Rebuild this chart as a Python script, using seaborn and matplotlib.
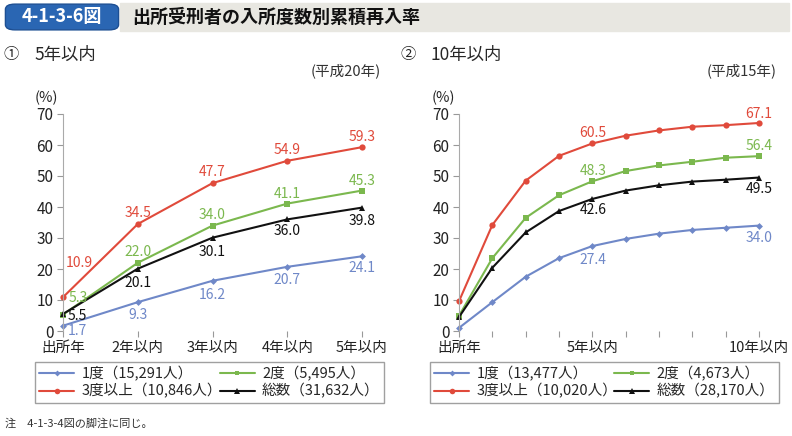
import numpy as np
import pandas as pd
import matplotlib.pyplot as plt
import seaborn as sns
from matplotlib.lines import Line2D
from matplotlib.patches import FancyBboxPatch, Rectangle

sns.set_style("white")
plt.rcParams['font.family'] = ['Noto Sans CJK JP', 'DejaVu Sans']

# data
series = ["1度", "2度", "3度以上", "総数"]
left_ticks = ["出所年", "2年以内", "3年以内", "4年以内", "5年以内"]
left_one = [1.7, 9.3, 16.2, 20.7, 24.1]
left_two = [5.3, 22.0, 34.0, 41.1, 45.3]
left_three = [10.9, 34.5, 47.7, 54.9, 59.3]
left_total = [5.5, 20.1, 30.1, 36.0, 39.8]
left_counts = ["15,291", "5,495", "10,846", "31,632"]

right_ticks = ["出所年", "", "", "", "5年以内", "", "", "", "", "10年以内"]
right_one = [1.0, 9.3, 17.5, 23.5, 27.4, 29.7, 31.4, 32.6, 33.3, 34.0]
right_two = [4.9, 23.5, 36.5, 43.8, 48.3, 51.6, 53.4, 54.6, 55.9, 56.4]
right_three = [9.6, 34.2, 48.5, 56.5, 60.5, 63.0, 64.7, 65.9, 66.4, 67.1]
right_total = [4.5, 20.4, 31.8, 38.7, 42.6, 45.3, 47.0, 48.2, 48.8, 49.5]
right_counts = ["13,477", "4,673", "10,020", "28,170"]

colors = {"1度": "#6f88c8", "2度": "#7bb84e", "3度以上": "#e04a3b", "総数": "#111111"}
markers = {"1度": "D", "2度": "s", "3度以上": "o", "総数": "^"}
msize = {"1度": 3.5, "2度": 4, "3度以上": 4.5, "総数": 4.5}

# which points get a value label and where (offset in pixels)
left_labels = {
    "1度": [(0, 14, -5), (1, 0, -13), (2, 0, -14), (3, 0, -13), (4, 0, -12)],
    "2度": [(0, 15, 17), (1, 0, 11), (2, 0, 11), (3, 0, 10), (4, 0, 10)],
    "3度以上": [(0, 16, 34), (1, 0, 11), (2, 0, 11), (3, 0, 11), (4, 0, 10)],
    "総数": [(0, 14, -2), (1, 0, -14), (2, 0, -14), (3, 0, -12), (4, 0, -13)],
}
right_labels = {
    "1度": [(4, 1, -14), (9, 0, -12)],
    "2度": [(4, 1, 10), (9, 0, 10)],
    "3度以上": [(4, 0, 10), (9, 0, 9)],
    "総数": [(4, 1, -11), (9, 0, -11)],
}


def long_frame(vals):
    rows = []
    for name, v in zip(series, vals):
        for i, y in enumerate(v):
            rows.append({"x": i, "rate": y, "series": name})
    return pd.DataFrame(rows)


fig = plt.figure(figsize=(7.92, 4.36), dpi=100)
W, H = 792, 436


def panel(rect, vals, ticks, labels):
    ax = fig.add_axes(rect)
    df = long_frame(vals)
    sns.lineplot(data=df, x="x", y="rate", hue="series", style="series",
                 palette=colors, markers=markers, dashes=False, linewidth=1.5,
                 markeredgewidth=0, legend=False, ax=ax, clip_on=False)
    for ln, name in zip(ax.lines, series):
        ln.set_clip_on(False)
        ln.set_markersize(msize[name])
    ax.set_xlim(0, len(ticks) - 1)
    ax.set_ylim(0, 70)
    ax.set_yticks(range(0, 71, 10))
    ax.set_xticks(range(len(ticks)))
    ax.set_xticklabels(ticks, fontsize=10.5, color="#222222")
    ax.tick_params(axis="y", labelsize=11, colors="#222222", length=4,
                   width=0.8, direction="out", left=True, pad=3)
    ax.tick_params(axis="y", color="#999999")
    ax.tick_params(axis="x", length=4, width=0.8, color="#999999",
                   direction="out", bottom=True, pad=3)
    for s in ["top", "right", "bottom"]:
        ax.spines[s].set_visible(False)
    ax.spines["left"].set_color("#aaaaaa")
    ax.spines["left"].set_linewidth(0.8)
    ax.set_xlabel("")
    ax.set_ylabel("")
    for name, v in zip(series, vals):
        for i, dx, dy in labels[name]:
            ax.annotate(f"{v[i]:.1f}", (i, v[i]), xytext=(dx, dy),
                        textcoords="offset pixels", ha="center", va="center",
                        fontsize=10, color=colors[name])
    return ax


panel([63 / W, 1 - 331 / H, 299 / W, 217 / H],
      [left_one, left_two, left_three, left_total], left_ticks, left_labels)
panel([459 / W, 1 - 331 / H, 300 / W, 217 / H],
      [right_one, right_two, right_three, right_total], right_ticks, right_labels)

# title band
fig.patches.append(Rectangle((120 / W, 1 - 31 / H), 669 / W, 28 / H,
                             transform=fig.transFigure, color="#e8e7e1",
                             zorder=0))
fig.patches.append(FancyBboxPatch((7 / W, 1 - 29 / H), 110 / W, 24 / H,
                                  boxstyle="round,pad=0.002,rounding_size=0.012",
                                  transform=fig.transFigure, fc="#2a66b3",
                                  ec="#1d4f93", lw=1, zorder=1))
fig.text(62 / W, 1 - 17 / H, "4-1-3-6図", color="white", fontsize=13,
         fontweight="bold", ha="center", va="center")
fig.text(132 / W, 1 - 17 / H, "出所受刑者の入所度数別累積再入率", color="#111111",
         fontsize=13, fontweight="bold", ha="left", va="center")

# panel headings
fig.text(3 / W, 1 - 55 / H, "①", fontsize=11, ha="left", va="center")
fig.text(34 / W, 1 - 55 / H, "5年以内", fontsize=12.5, ha="left", va="center")
fig.text(381 / W, 1 - 71 / H, "(平成20年)", fontsize=10.5, ha="right",
         va="center", color="#333333")
fig.text(400 / W, 1 - 55 / H, "②", fontsize=11, ha="left", va="center")
fig.text(430 / W, 1 - 55 / H, "10年以内", fontsize=12.5, ha="left", va="center")
fig.text(777 / W, 1 - 71 / H, "(平成15年)", fontsize=10.5, ha="right",
         va="center", color="#333333")
fig.text(46 / W, 1 - 98 / H, "(%)", fontsize=10.5, ha="center", va="center")
fig.text(443 / W, 1 - 98 / H, "(%)", fontsize=10.5, ha="center", va="center")


def legend_box(x0, x1, counts):
    handles = [Line2D([0], [0], color=colors[n], marker=markers[n],
                      markersize=msize[n] - 0.5, markeredgewidth=0, lw=1.5)
               for n in series]
    names = [f"{n}（{c}人）" for n, c in zip(series, counts)]
    order = [0, 2, 1, 3]
    leg = fig.legend([handles[i] for i in order], [names[i] for i in order],
                     ncol=2, loc="center",
                     bbox_to_anchor=(x0 / W, 1 - 406 / H, (x1 - x0) / W, 47 / H),
                     mode="expand", fontsize=10.5, frameon=True, fancybox=False,
                     handlelength=2.4, handletextpad=0.5, labelspacing=0.15,
                     borderpad=0.3, borderaxespad=0, columnspacing=1.0)
    leg.get_frame().set_edgecolor("#888888")
    leg.get_frame().set_linewidth(1.0)


legend_box(35, 384, left_counts)
legend_box(430, 779, right_counts)

fig.text(5 / W, 1 - 424 / H, "注　4-1-3-4図の脚注に同じ。", fontsize=8,
         ha="left", va="center", color="#333333")

fig.savefig("out.png", dpi=100)
